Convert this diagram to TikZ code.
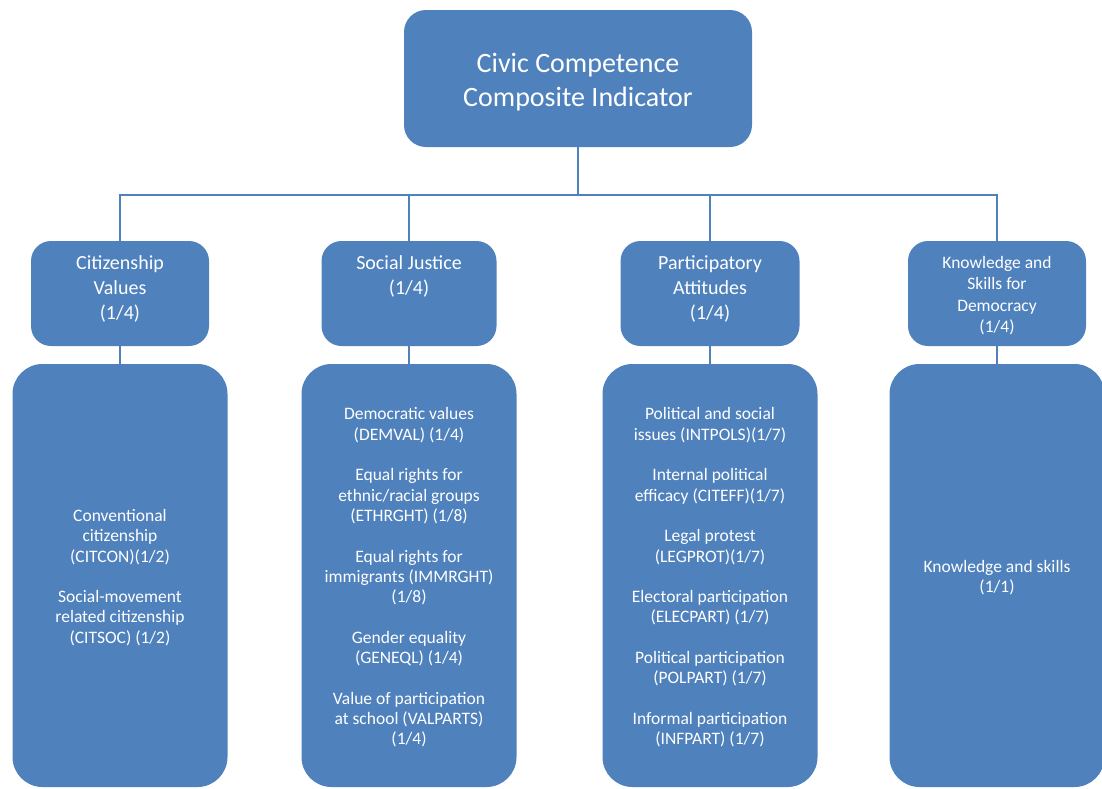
\documentclass[tikz,border=0pt]{standalone}
\usepackage{fontspec}
\setmainfont{Carlito}
\definecolor{boxblue}{HTML}{4F81BD}
\begin{document}
\begin{tikzpicture}[x=1pt,y=-1pt,
  box/.style={fill=boxblue, draw=none, text=white, align=center, inner sep=0pt, rounded corners=#1},
  box/.default=20pt,
  conn/.style={draw=boxblue, line width=2pt},
  titletext/.style={text=white, align=center, inner sep=0pt, font=\fontsize{28}{34}\selectfont},
  midtext/.style={text=white, align=center, inner sep=0pt, anchor=north, font=\fontsize{20}{25}\selectfont},
  kstext/.style={text=white, align=center, inner sep=0pt, anchor=north, font=\fontsize{17.5}{21.5}\selectfont},
  lowtext/.style={text=white, align=center, inner sep=0pt, font=\fontsize{17.5}{20.3}\selectfont},
  lowbox/.style={box=30pt, minimum width=215pt, minimum height=423pt}
]
\useasboundingbox (0,0) rectangle (1102,788);

% top
\node[box=22pt, minimum width=348pt, minimum height=137pt] (top) at (578,78.5) {};
\node[titletext] (toptext) at (578,82.5) {Civic Competence\\Composite Indicator};

% second level
\node[box, minimum width=178pt, minimum height=105pt] (cv) at (120,293.5) {};
\node[box, minimum width=175pt, minimum height=105pt] (sj) at (409,293.5) {};
\node[box, minimum width=179pt, minimum height=105pt] (pa) at (710,293.5) {};
\node[box, minimum width=178pt, minimum height=105pt] (ks) at (997,293.5) {};

\node[midtext] (cvt) at (120,255) {Citizenship\\Values\\(1/4)};
\node[midtext] (sjt) at (409,255) {Social Justice\\(1/4)};
\node[midtext] (pat) at (710,255) {Participatory\\Attitudes\\(1/4)};
\node[kstext] (kst) at (997,256) {Knowledge and\\Skills for\\Democracy\\(1/4)};

% lower level
\node[lowbox] (cvl) at (120,575.5) {};
\node[lowbox] (sjl) at (409,575.5) {};
\node[lowbox] (pal) at (710,575.5) {};
\node[lowbox] (ksl) at (997,575.5) {};

\node[lowtext] (cvlt) at (120,577.5) {Conventional\\citizenship\\(CITCON)(1/2)\\[20.3pt]Social-movement\\related citizenship\\(CITSOC) (1/2)};
\node[lowtext] (sjlt) at (409,577.5) {Democratic values\\(DEMVAL) (1/4)\\[20.3pt]Equal rights for\\ethnic/racial groups\\(ETHRGHT) (1/8)\\[20.3pt]Equal rights for\\immigrants (IMMRGHT)\\(1/8)\\[20.3pt]Gender equality\\(GENEQL) (1/4)\\[20.3pt]Value of participation\\at school (VALPARTS)\\(1/4)};
\node[lowtext] (palt) at (710,577.5) {Political and social\\issues (INTPOLS)(1/7)\\[20.3pt]Internal political\\efficacy (CITEFF)(1/7)\\[20.3pt]Legal protest\\(LEGPROT)(1/7)\\[20.3pt]Electoral participation\\(ELECPART) (1/7)\\[20.3pt]Political participation\\(POLPART) (1/7)\\[20.3pt]Informal participation\\(INFPART) (1/7)};
\node[lowtext] (kslt) at (997,577.5) {Knowledge and skills\\(1/1)};

% connectors
\coordinate (bus) at (578,195);
\draw[conn] (top.south) -- (bus);
\draw[conn] (cv.north) -- (cv.north |- bus) -- (ks.north |- bus) -- (ks.north);
\draw[conn] (sj.north) -- (sj.north |- bus);
\draw[conn] (pa.north) -- (pa.north |- bus);
\draw[conn] (cv.south) -- (cvl.north);
\draw[conn] (sj.south) -- (sjl.north);
\draw[conn] (pa.south) -- (pal.north);
\draw[conn] (ks.south) -- (ksl.north);
\end{tikzpicture}
\end{document}
